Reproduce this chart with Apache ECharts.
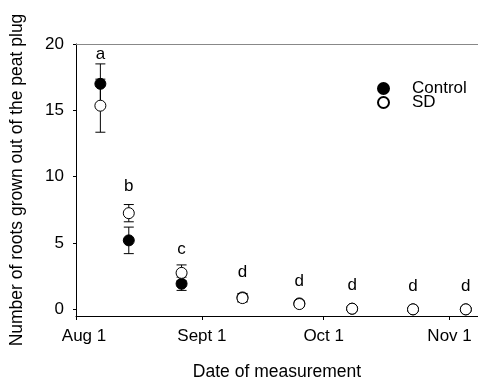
<!DOCTYPE html>
<html>
<head>
<meta charset="utf-8">
<script src="https://cdn.jsdelivr.net/npm/echarts@6/dist/echarts.min.js"></script>
<style>html,body{margin:0;padding:0;background:#fff;}#c{width:478px;height:386px;}</style>
</head>
<body>
<div id="c"></div>
<script>
// ---- data ----
const dates = ['2010-08-07','2010-08-14','2010-08-27','2010-09-11','2010-09-25','2010-10-08','2010-10-23','2010-11-05'];
const controlMean = [17.0, 5.2, 1.93, 0.9, 0.45, 0.05, 0.0, 0.0];
const controlErr  = [1.5, 1.0, 0.5, 0.3, 0.2, 0.0, 0.0, 0.0];
const sdMean = [15.35, 7.25, 2.75, 0.85, 0.4, 0.05, 0.0, 0.0];
const sdErr  = [2.0, 0.65, 0.6, 0.3, 0.2, 0.0, 0.0, 0.0];
const letters = ['a','b','c','d','d','d','d','d'];
const letterY = [19.2, 9.3, 4.5, 2.8, 2.15, 1.8, 1.7, 1.7];
const tickDates = ['2010-08-01','2010-09-01','2010-10-01','2010-11-01'];
const tickLabels = ['Aug 1','Sept 1','Oct 1','Nov 1'];
const yTicks = [0, 5, 10, 15, 20];
const axisStart = '2010-08-01';
const axisEnd = '2010-11-08';

// convert dates to day offsets from axis start
const DAY = 86400000;
const t0 = Date.parse(axisStart + 'T00:00:00Z');
const toDay = d => Math.round((Date.parse(d + 'T00:00:00Z') - t0) / DAY);
const xDays = dates.map(toDay);
const tickDays = tickDates.map(toDay);
const tickMap = {};
tickDays.forEach((d, i) => { tickMap[d] = tickLabels[i]; });

const FONT = '"Liberation Sans", Arial, sans-serif';

function errData(means, errs) {
  return xDays.map((x, i) => [x, means[i], means[i] - errs[i], means[i] + errs[i]]);
}
function renderErr(params, api) {
  const x = api.value(0);
  const lo = api.coord([x, api.value(2)]);
  const hi = api.coord([x, api.value(3)]);
  if (Math.abs(hi[1] - lo[1]) < 1) return null;
  const hw = 5;
  const style = { stroke: '#000', lineWidth: 1, fill: null };
  return {
    type: 'group',
    children: [
      { type: 'line', shape: { x1: lo[0], y1: lo[1], x2: hi[0], y2: hi[1] }, style },
      { type: 'line', shape: { x1: lo[0] - hw, y1: lo[1], x2: lo[0] + hw, y2: lo[1] }, style },
      { type: 'line', shape: { x1: hi[0] - hw, y1: hi[1], x2: hi[0] + hw, y2: hi[1] }, style }
    ]
  };
}
function renderLetter(params, api) {
  const p = api.coord([api.value(0), api.value(1)]);
  return {
    type: 'text',
    x: p[0], y: p[1],
    style: {
      text: letters[params.dataIndex],
      fill: '#000',
      font: '17px ' + FONT,
      align: 'center',
      verticalAlign: 'middle'
    }
  };
}

const legendCommon = {
  orient: 'vertical',
  left: 377,
  padding: 0,
  itemWidth: 11,
  itemHeight: 11,
  textStyle: { fontFamily: FONT, fontSize: 17, color: '#000', lineHeight: 12, padding: [0, 0, 0, 18] }
};

const chart = echarts.init(document.getElementById('c'), null, { renderer: 'canvas' });
chart.setOption({
  animation: false,
  backgroundColor: '#fff',
  textStyle: { fontFamily: FONT },
  grid: { left: 76, right: 0, top: 44, bottom: 69, containLabel: false },
  legend: [
    Object.assign({}, legendCommon, { top: 80, data: ['Control'] }),
    Object.assign({}, legendCommon, { top: 94, data: ['SD'] })
  ],
  xAxis: [{
    type: 'value',
    min: 0,
    max: toDay(axisEnd),
    name: 'Date of measurement',
    nameLocation: 'middle',
    nameGap: 47,
    nameTextStyle: { fontFamily: FONT, fontSize: 17.5, color: '#000' },
    axisLine: { show: true, onZero: false, lineStyle: { color: '#000', width: 1 } },
    axisTick: { show: true, length: 4, lineStyle: { color: '#000' }, customValues: tickDays },
    axisLabel: {
      customValues: tickDays,
      margin: 12,
      fontFamily: FONT, fontSize: 17, color: '#000',
      formatter: v => (v === tickDays[0] ? '{f|' + tickMap[v] + '}' : (tickMap[v] || '')),
      rich: { f: { fontFamily: FONT, fontSize: 17, color: '#000', padding: [0, 0, 0, 16] } }
    },
    splitLine: { show: false }
  }, {
    type: 'value',
    position: 'top',
    min: 0,
    max: toDay(axisEnd),
    axisLine: { show: true, onZero: false, lineStyle: { color: '#888', width: 1 } },
    axisTick: { show: false },
    axisLabel: { show: false },
    splitLine: { show: false }
  }],
  yAxis: {
    type: 'value',
    min: -0.5,
    max: 20,
    name: 'Number of roots grown out of the peat plug',
    nameLocation: 'middle',
    nameGap: 50,
    nameTextStyle: { fontFamily: FONT, fontSize: 17.5, color: '#000' },
    axisLine: { show: true, onZero: false, lineStyle: { color: '#000', width: 1 } },
    axisTick: { show: true, length: 3, lineStyle: { color: '#000' }, customValues: yTicks },
    axisLabel: { customValues: yTicks, margin: 12, fontFamily: FONT, fontSize: 17, color: '#000' },
    splitLine: { show: false }
  },
  series: [
    { type: 'custom', name: 'errC', renderItem: renderErr, data: errData(controlMean, controlErr), encode: { x: 0, y: [2, 3] }, z: 1, silent: true },
    { type: 'custom', name: 'errS', renderItem: renderErr, data: errData(sdMean, sdErr), encode: { x: 0, y: [2, 3] }, z: 1, silent: true },
    {
      type: 'scatter', name: 'Control', symbol: 'circle', symbolSize: 11,
      itemStyle: { color: '#000', borderColor: '#000', borderWidth: 1, opacity: 1 },
      data: xDays.map((x, i) => [x, controlMean[i]]), z: 3
    },
    {
      type: 'scatter', name: 'SD', symbol: 'circle', symbolSize: 11,
      itemStyle: { color: '#fff', borderColor: '#000', borderWidth: 1, opacity: 1 },
      data: xDays.map((x, i) => [x, sdMean[i]]), z: 4
    },
    {
      type: 'custom', name: 'letters', silent: true,
      renderItem: renderLetter,
      data: xDays.map((x, i) => [x, letterY[i]]),
      encode: { x: 0, y: 1 },
      z: 5
    }
  ]
});
</script>
</body>
</html>
